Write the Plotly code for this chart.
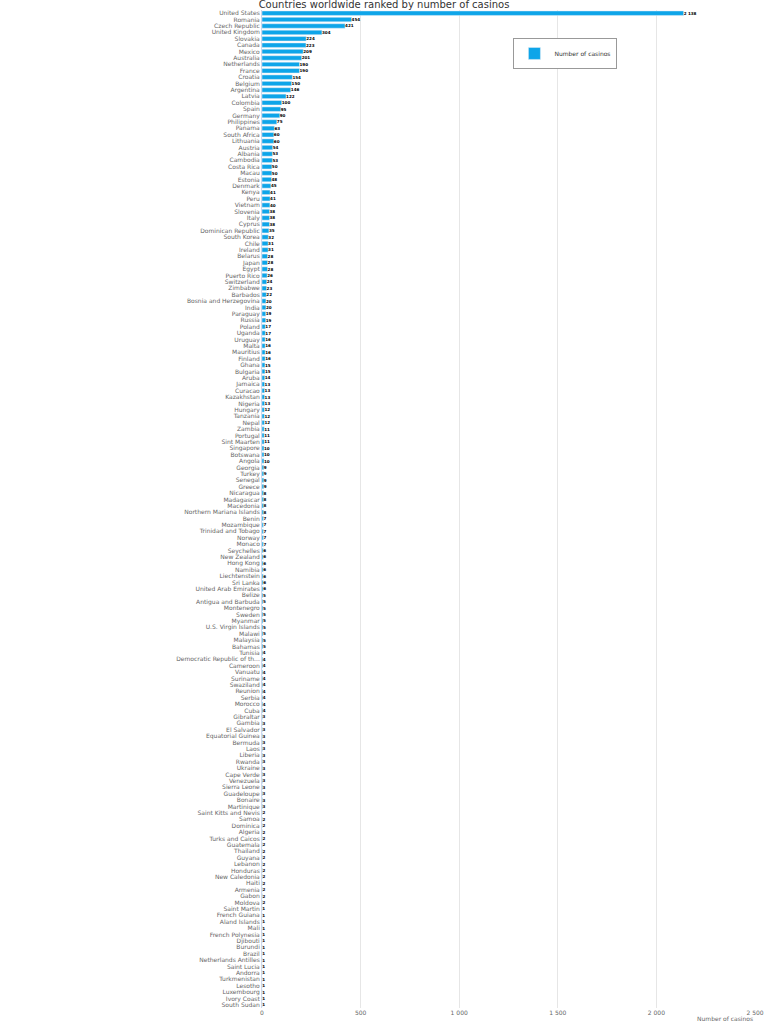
import plotly.graph_objects as go

# ranked countries, top to bottom
countries = [
    "United States", "Romania", "Czech Republic", "United Kingdom", "Slovakia",
    "Canada", "Mexico", "Australia", "Netherlands", "France",
    "Croatia", "Belgium", "Argentina", "Latvia", "Colombia",
    "Spain", "Germany", "Philippines", "Panama", "South Africa",
    "Lithuania", "Austria", "Albania", "Cambodia", "Costa Rica",
    "Macau", "Estonia", "Denmark", "Kenya", "Peru",
    "Vietnam", "Slovenia", "Italy", "Cyprus", "Dominican Republic",
    "South Korea", "Chile", "Ireland", "Belarus", "Japan",
    "Egypt", "Puerto Rico", "Switzerland", "Zimbabwe", "Barbados",
    "Bosnia and Herzegovina", "India", "Paraguay", "Russia", "Poland",
    "Uganda", "Uruguay", "Malta", "Mauritius", "Finland",
    "Ghana", "Bulgaria", "Aruba", "Jamaica", "Curacao",
    "Kazakhstan", "Nigeria", "Hungary", "Tanzania", "Nepal",
    "Zambia", "Portugal", "Sint Maarten", "Singapore", "Botswana",
    "Angola", "Georgia", "Turkey", "Senegal", "Greece",
    "Nicaragua", "Madagascar", "Macedonia", "Northern Mariana Islands", "Benin",
    "Mozambique", "Trinidad and Tobago", "Norway", "Monaco", "Seychelles",
    "New Zealand", "Hong Kong", "Namibia", "Liechtenstein", "Sri Lanka",
    "United Arab Emirates", "Belize", "Antigua and Barbuda", "Montenegro", "Sweden",
    "Myanmar", "U.S. Virgin Islands", "Malawi", "Malaysia", "Bahamas",
    "Tunisia", "Democratic Republic of th...", "Cameroon", "Vanuatu", "Suriname",
    "Swaziland", "Reunion", "Serbia", "Morocco", "Cuba",
    "Gibraltar", "Gambia", "El Salvador", "Equatorial Guinea", "Bermuda",
    "Laos", "Liberia", "Rwanda", "Ukraine", "Cape Verde",
    "Venezuela", "Sierra Leone", "Guadeloupe", "Bonaire", "Martinique",
    "Saint Kitts and Nevis", "Samoa", "Dominica", "Algeria", "Turks and Caicos",
    "Guatemala", "Thailand", "Guyana", "Lebanon", "Honduras",
    "New Caledonia", "Haiti", "Armenia", "Gabon", "Moldova",
    "Saint Martin", "French Guiana", "Aland Islands", "Mali", "French Polynesia",
    "Djibouti", "Burundi", "Brazil", "Netherlands Antilles", "Saint Lucia",
    "Andorra", "Turkmenistan", "Lesotho", "Luxembourg", "Ivory Coast",
    "South Sudan",
]

casinos = [
    2138, 454, 421, 304, 224,
    223, 209, 201, 190, 190,
    154, 150, 146, 122, 100,
    95, 90, 75, 63, 60,
    60, 54, 53, 53, 50,
    50, 48, 45, 41, 41,
    40, 38, 38, 38, 35,
    32, 31, 31, 28, 28,
    28, 26, 24, 23, 22,
    20, 20, 19, 19, 17,
    17, 16, 16, 16, 16,
    15, 15, 14, 13, 13,
    13, 13, 12, 12, 12,
    11, 11, 11, 10, 10,
    10, 9, 9, 9, 9,
    8, 8, 8, 8, 7,
    7, 7, 7, 7, 6,
    6, 6, 6, 6, 6,
    6, 5, 5, 5, 5,
    5, 5, 5, 5, 5,
    4, 4, 4, 4, 4,
    4, 4, 4, 4, 4,
    3, 3, 3, 3, 3,
    3, 3, 3, 3, 3,
    3, 3, 3, 3, 3,
    2, 2, 2, 2, 2,
    2, 2, 2, 2, 2,
    2, 2, 2, 2, 2,
    1, 1, 1, 1, 1,
    1, 1, 1, 1, 1,
    1, 1, 1, 1, 1,
    1,
]

x_ticks = [0, 500, 1000, 1500, 2000, 2500]

fig = go.Figure()
fig.add_trace(
    go.Bar(
        x=casinos,
        y=countries,
        orientation="h",
        name="Number of casinos",
        marker={"color": "#0ea5e9"},
        texttemplate="%{x:,}",
        textposition="outside",
        textfont={"size": 5.5, "color": "#000000", "family": "DejaVu Sans", "weight": "bold"},
        cliponaxis=False,
    )
)

fig.update_layout(
    width=768,
    height=1024,
    margin={"l": 262, "r": 13, "t": 10, "b": 16},
    separators=". ",
    paper_bgcolor="white",
    plot_bgcolor="white",
    bargap=0.3,
    font={"family": "DejaVu Sans", "color": "#666666"},
    title={
        "text": "Countries worldwide ranked by number of casinos",
        "x": 0.5,
        "xanchor": "center",
        "y": 0.9995,
        "yanchor": "top",
        "font": {"size": 10, "color": "#333333"},
    },
    showlegend=True,
    legend={
        "x": 0.51,
        "y": 0.972,
        "xanchor": "left",
        "yanchor": "top",
        "bordercolor": "#999999",
        "borderwidth": 1,
        "bgcolor": "white",
        "font": {"size": 6, "color": "#333333"},
        "itemwidth": 30,
        "tracegroupgap": 0,
    },
)

fig.update_xaxes(
    range=[0, 2500],
    tickvals=x_ticks,
    tickformat=",",
    showgrid=True,
    gridcolor="#e6e6e6",
    zeroline=False,
    tickfont={"size": 6, "color": "#666666"},
    ticklen=0,
    automargin=False,
)
fig.update_yaxes(
    autorange="reversed",
    tickmode="array",
    tickvals=countries,
    ticktext=countries,
    tickfont={"size": 6, "color": "#666666"},
    showline=True,
    linecolor="#ccd6eb",
    ticks="",
    automargin=False,
)

fig.add_annotation(
    text="Number of casinos",
    x=1,
    y=0,
    xref="paper",
    yref="paper",
    xanchor="right",
    yanchor="bottom",
    yshift=-16,
    showarrow=False,
    font={"size": 6, "color": "#666666"},
)

# drop the default page margin so the figure sits at the window's corner
fig.write_html(
    "out.html",
    config={"displayModeBar": False},
    post_script="document.body.style.margin = '0';",
)
